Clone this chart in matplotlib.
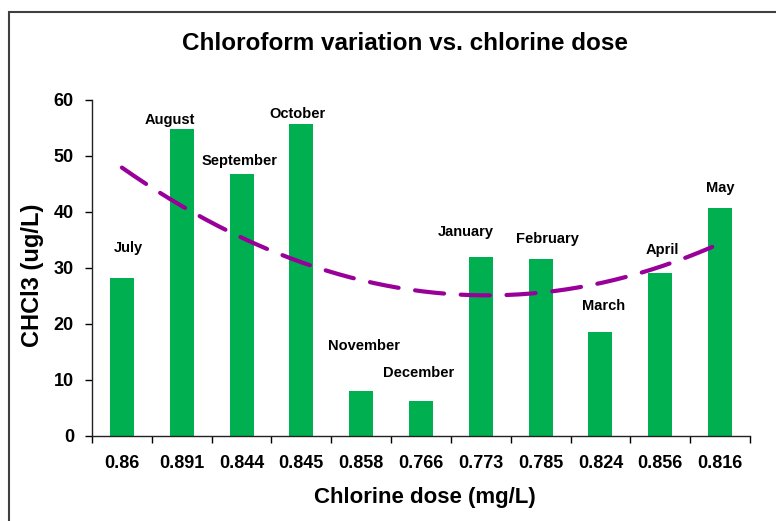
"""Chloroform variation vs. chlorine dose - bar chart with quadratic trendline."""

import numpy as np
import matplotlib
matplotlib.use("Agg")
import matplotlib.pyplot as plt
from matplotlib.patches import Rectangle

months = ["July", "August", "September", "October", "November", "December",
          "January", "February", "March", "April", "May"]
chlorine_dose = ["0.86", "0.891", "0.844", "0.845", "0.858", "0.766",
                 "0.773", "0.785", "0.824", "0.856", "0.816"]
chcl3 = [28.2, 54.8, 46.8, 55.7, 8.0, 6.3, 32.0, 31.6, 18.6, 29.1, 40.7]

# hand placed month labels (pixel offsets from bar top centre)
label_offsets = [(6, 30), (-12, 9), (-2, 13), (-4, 10), (3, 45), (-2, 28),
                 (-15, 25), (7, 20), (3, 26), (2, 23), (0, 20)]

BAR_COLOR = "#00B050"
TREND_COLOR = "#990099"
FONT = "Liberation Sans"


def main():
    plt.rcParams["font.family"] = [FONT, "DejaVu Sans"]
    fig = plt.figure(figsize=(7.76, 5.21), dpi=100)
    ax = fig.add_axes([92 / 776, 85 / 521, 658 / 776, 336 / 521])

    x = np.arange(len(chcl3))
    ax.bar(x, chcl3, width=0.4, color=BAR_COLOR, zorder=2)

    # Excel style 2nd order polynomial trendline over the category index
    coef = np.polyfit(x + 1, chcl3, 2)
    xs = np.linspace(0, len(chcl3) - 1, 200)
    line, = ax.plot(xs, np.polyval(coef, xs + 1), color=TREND_COLOR, lw=3,
                    zorder=3, dash_capstyle="round")
    line.set_dashes((7, 4))

    for i, (name, val) in enumerate(zip(months, chcl3)):
        dx, dy = label_offsets[i]
        ax.annotate(name, (i, val), xytext=(dx, dy), textcoords="offset pixels",
                    ha="center", va="center", fontsize=10.5, fontweight="bold")

    ax.set_xlim(-0.5, len(chcl3) - 0.5)
    ax.set_ylim(0, 60)
    ax.set_yticks(range(0, 61, 10))
    ax.set_xticks(x)
    ax.set_xticklabels(chlorine_dose)
    ax.set_xticks(np.arange(-0.5, len(chcl3)), minor=True)
    ax.tick_params(axis="x", which="major", length=0, pad=14, labelsize=13)
    ax.tick_params(axis="x", which="minor", length=5, width=1, direction="out")
    ax.tick_params(axis="y", length=5, width=1, direction="out", pad=8,
                   labelsize=13)
    for lab in ax.get_xticklabels() + ax.get_yticklabels():
        lab.set_fontweight("bold")

    for side in ("top", "right"):
        ax.spines[side].set_visible(False)
    for side in ("left", "bottom"):
        ax.spines[side].set_linewidth(1)
        ax.spines[side].set_color("#222222")

    fig.text(405 / 776, 1 - 44 / 521, "Chloroform variation vs. chlorine dose",
             ha="center", va="center", fontsize=17.5, fontweight="bold")
    fig.text(425 / 776, 1 - 497 / 521, "Chlorine dose (mg/L)",
             ha="center", va="center", fontsize=16, fontweight="bold")
    fig.text(33 / 776, 1 - 275 / 521, "CHCl3 (ug/L)", rotation=90,
             ha="center", va="center", fontsize=17, fontweight="bold")

    # outer chart frame, open towards the right and bottom edges
    fig.patches.append(Rectangle((9 / 776, -0.05), 1.2, 1 - 12 / 521 + 0.05,
                                 transform=fig.transFigure, fill=False,
                                 edgecolor="#404040", lw=1.5))

    fig.savefig("out.png", dpi=100)
    plt.close(fig)


if __name__ == "__main__":
    main()
